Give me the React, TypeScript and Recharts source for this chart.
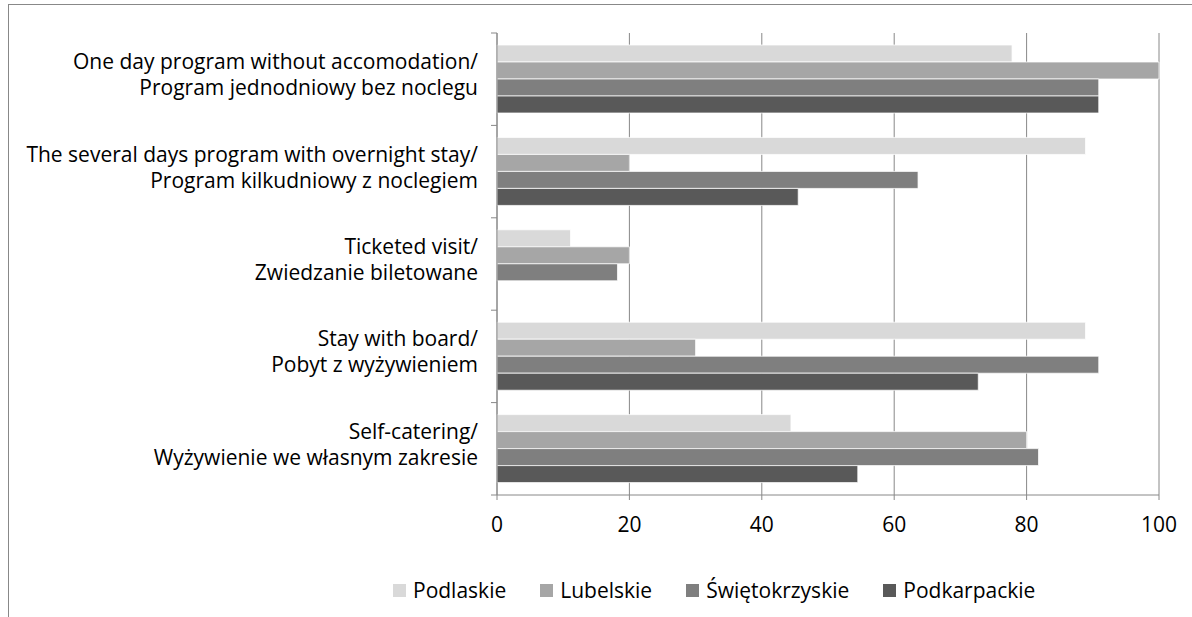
import { Bar, BarChart, CartesianGrid, XAxis, YAxis } from "recharts";

// Category labels, English / Polish on two lines
const categoryLines: [string, string][] = [
  ["One day program without accomodation/", "Program jednodniowy bez noclegu"],
  ["The several days program with overnight stay/", "Program kilkudniowy z noclegiem"],
  ["Ticketed visit/", "Zwiedzanie biletowane"],
  ["Stay with board/", "Pobyt z wyżywieniem"],
  ["Self-catering/", "Wyżywienie we własnym zakresie"],
];

const seriesNames = ["Podlaskie", "Lubelskie", "Świętokrzyskie", "Podkarpackie"];
const seriesColors = ["#d9d9d9", "#a6a6a6", "#7f7f7f", "#595959"];

const podlaskie = [77.8, 88.9, 11.1, 88.9, 44.4];
const lubelskie = [100, 20, 20, 30, 80];
const swietokrzyskie = [90.9, 63.6, 18.2, 90.9, 81.8];
const podkarpackie = [90.9, 45.5, 0, 72.7, 54.5];

const xTicks = [0, 20, 40, 60, 80, 100];

const FONT = "'Open Sans', sans-serif";
const FONT_SIZE = 21;
const GRID = "#888888";

const W = 1192;
const H = 617;
const MARGIN = { top: 33, right: 33, bottom: 92, left: 0 };
const Y_AXIS_W = 497;
const X_AXIS_H = 30;
const BAND = (H - MARGIN.top - MARGIN.bottom - X_AXIS_H) / categoryLines.length;

const data = categoryLines.map((_, i) => ({
  idx: i,
  s0: podlaskie[i],
  s1: lubelskie[i],
  s2: swietokrzyskie[i],
  s3: podkarpackie[i],
}));

// two-line category label plus tick marks at the band edges
function CategoryTick(props: any) {
  const { x, y, payload, index } = props;
  const lines = categoryLines[payload.value] ?? ["", ""];
  const axisX = x + 8;
  const last = index === categoryLines.length - 1;
  const tx = axisX - 19;
  return (
    <g>
      <line x1={axisX - 6} x2={axisX} y1={y - BAND / 2} y2={y - BAND / 2} stroke={GRID} />
      {last && <line x1={axisX - 6} x2={axisX} y1={y + BAND / 2} y2={y + BAND / 2} stroke={GRID} />}
      <text x={tx} y={y - 10} textAnchor="end" fontFamily={FONT} fontSize={FONT_SIZE} fill="#000">
        {lines[0]}
      </text>
      <text x={tx} y={y + 16} textAnchor="end" fontFamily={FONT} fontSize={FONT_SIZE} fill="#000">
        {lines[1]}
      </text>
    </g>
  );
}

export default function App() {
  const keys = ["s0", "s1", "s2", "s3"];
  return (
    <div style={{ position: "fixed", left: 0, top: 0, width: W, height: H, overflow: "hidden", background: "#fff" }}>
      <div
        style={{
          position: "absolute",
          left: 8,
          top: 4,
          width: 1400,
          height: 800,
          borderTop: `1.5px solid ${GRID}`,
          borderLeft: `1.5px solid ${GRID}`,
        }}
      />
      <div style={{ position: "absolute", left: 0, top: 0 }}>
        <BarChart
          width={W}
          height={H}
          data={data}
          layout="vertical"
          margin={MARGIN}
          barCategoryGap="13%"
          barGap={0}
        >
          <CartesianGrid horizontal={false} stroke={GRID} />
          <XAxis
            type="number"
            domain={[0, 100]}
            ticks={xTicks}
            height={X_AXIS_H}
            stroke={GRID}
            tickSize={5}
            tickMargin={17}
            tick={{ fill: "#000", fontSize: FONT_SIZE, fontFamily: FONT }}
          />
          <YAxis
            type="category"
            dataKey="idx"
            width={Y_AXIS_W}
            stroke={GRID}
            tickLine={false}
            interval={0}
            tick={<CategoryTick />}
          />
          {keys.map((k, i) => (
            <Bar
              key={k}
              dataKey={k}
              name={seriesNames[i]}
              fill={seriesColors[i]}
              stroke="#ffffff"
              strokeWidth={0.75}
              isAnimationActive={false}
            />
          ))}
        </BarChart>
      </div>
      <div
        style={{
          position: "absolute",
          left: 393,
          top: 575,
          height: 30,
          display: "flex",
          alignItems: "center",
          fontFamily: FONT,
          fontSize: FONT_SIZE,
          color: "#000",
        }}
      >
        {seriesNames.map((n, i) => (
          <div key={n} style={{ display: "flex", alignItems: "center", marginRight: 34 }}>
            <span style={{ width: 13, height: 13, background: seriesColors[i], marginRight: 7, display: "inline-block" }} />
            <span>{n}</span>
          </div>
        ))}
      </div>
    </div>
  );
}
